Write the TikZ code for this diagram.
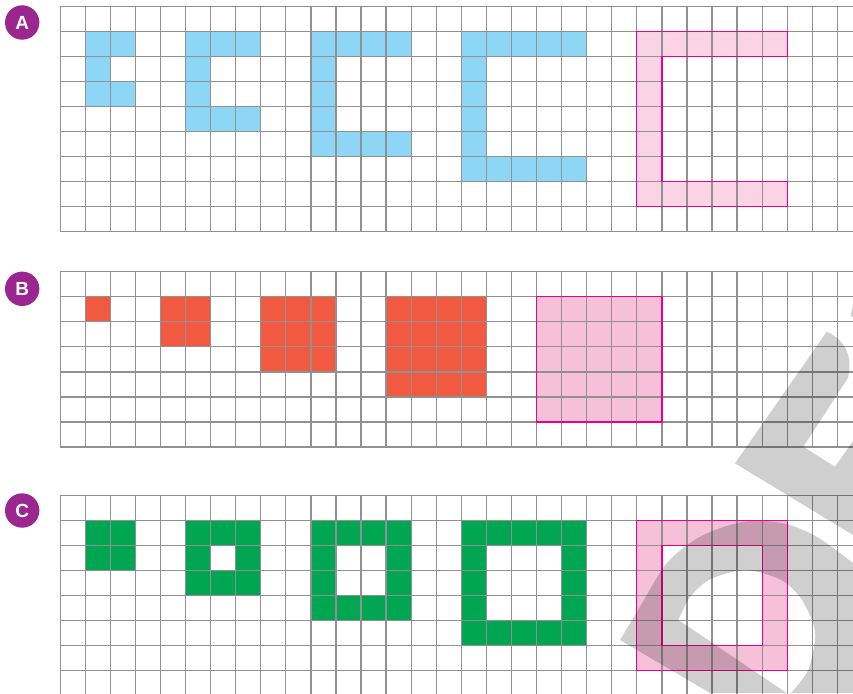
\documentclass[tikz,border=0pt]{standalone}
\usepackage{fontspec}
\setmainfont{Liberation Sans}
\definecolor{gridc}{RGB}{145,145,145}
\definecolor{cblue}{RGB}{142,214,246}
\definecolor{cred}{RGB}{241,90,64}
\definecolor{cgreen}{RGB}{0,166,81}
\definecolor{cpinkA}{RGB}{250,212,228}
\definecolor{cpink}{RGB}{246,192,216}
\definecolor{cmag}{RGB}{236,0,140}
\definecolor{cpurple}{RGB}{155,38,143}
\tikzset{
  gridline/.style={draw=gridc, line width=1.25pt},
  pinkedge/.style={draw=cmag, line width=1.3pt, line join=miter},
  seclabel/.style={circle, fill=cpurple, minimum size=34.4pt, inner sep=0pt,
    text=white, font=\fontsize{19}{19}\selectfont\bfseries},
  wmark/.style={fill=black, fill opacity=0.19},
}
\begin{document}
\begin{tikzpicture}[x=1pt,y=-1pt]
\clip (0,0) rectangle (853,693);
\fill[white] (0,0) rectangle (853,693);

% labels
\node[seclabel] (labA) at (22.2,22.5) {A};
\node[seclabel] (labB) at (22.2,288.8) {B};
\node[seclabel] (labC) at (22.2,510.5) {C};

% ---------- section A ----------
\begin{scope}[shift={(60.2pt,-6.2pt)},x=25.07pt,y=-25.05pt]
  \fill[cblue] (1,1) -- (3,1) -- (3,2) -- (2,2) -- (2,3) -- (3,3) -- (3,4) -- (1,4) -- cycle;
  \fill[cblue] (5,1) -- (8,1) -- (8,2) -- (6,2) -- (6,4) -- (8,4) -- (8,5) -- (5,5) -- cycle;
  \fill[cblue] (10,1) -- (14,1) -- (14,2) -- (11,2) -- (11,5) -- (14,5) -- (14,6) -- (10,6) -- cycle;
  \fill[cblue] (16,1) -- (21,1) -- (21,2) -- (17,2) -- (17,6) -- (21,6) -- (21,7) -- (16,7) -- cycle;
  \fill[cpinkA] (23,1) -- (29,1) -- (29,2) -- (24,2) -- (24,7) -- (29,7) -- (29,8) -- (23,8) -- cycle;
  \foreach \j in {0,...,9} \draw[gridline] (0,\j) -- (32,\j);
  \foreach \i in {0,...,31} \draw[gridline] (\i,0) -- (\i,9);
  \draw[pinkedge] (23,1) -- (29,1) -- (29,2) -- (24,2) -- (24,7) -- (29,7) -- (29,8) -- (23,8) -- cycle;
\end{scope}

% ---------- section B ----------
\begin{scope}[shift={(60.2pt,-271.7pt)},x=25.07pt,y=-25.05pt]
  \fill[cred] (1,1) rectangle (2,2);
  \fill[cred] (4,1) rectangle (6,3);
  \fill[cred] (8,1) rectangle (11,4);
  \fill[cred] (13,1) rectangle (17,5);
  \fill[cpink] (19,1) rectangle (24,6);
  \foreach \j in {0,...,7} \draw[gridline] (0,\j) -- (32,\j);
  \foreach \i in {0,...,31} \draw[gridline] (\i,0) -- (\i,7);
  \draw[pinkedge] (19,1) rectangle (24,6);
\end{scope}

% ---------- section C ----------
\begin{scope}[shift={(60.2pt,-495.3pt)},x=25.07pt,y=-25.05pt]
  \fill[cgreen] (1,1) rectangle (3,3);
  \fill[cgreen,even odd rule] (5,1) rectangle (8,4) (6,2) rectangle (7,3);
  \fill[cgreen,even odd rule] (10,1) rectangle (14,5) (11,2) rectangle (13,4);
  \fill[cgreen,even odd rule] (16,1) rectangle (21,6) (17,2) rectangle (20,5);
  \fill[cpink,even odd rule] (23,1) rectangle (29,7) (24,2) rectangle (28,6);
  \foreach \j in {0,...,7} \draw[gridline] (0,\j) -- (32,\j);
  \foreach \i in {0,...,31} \draw[gridline] (\i,0) -- (\i,8);
  \draw[pinkedge] (23,1) rectangle (29,7) (24,2) rectangle (28,6);
\end{scope}

% ---------- watermark ----------
\fill[wmark] (850.5,316) -- (853,305) -- (853,317) -- cycle;
\fill[wmark] (826.7,331.7) -- (735,463.3) -- (853,535) -- (853,441) -- (835,466.7)
  -- (803.3,446.7) -- (848,378) .. controls (853,356) and (845,340) .. (826.7,331.7) -- cycle;
\fill[wmark] (620,640) -- (710,693) -- (786.7,693) -- (678.3,620)
  -- plot[smooth] coordinates {(678.3,620) (690,597) (710,579.4) (745,570) (780,579.4) (800,597) (813,623) (815,640) (808,670.5) (791,693)}
  -- (853,693) -- (853,563)
  -- plot[smooth] coordinates {(853,563) (816.7,536.7) (783.3,523.3) (743.3,521.7) (700,536.7) (666.7,563.3) (640,606.7) (620,640)}
  -- cycle;
\end{tikzpicture}
\end{document}
